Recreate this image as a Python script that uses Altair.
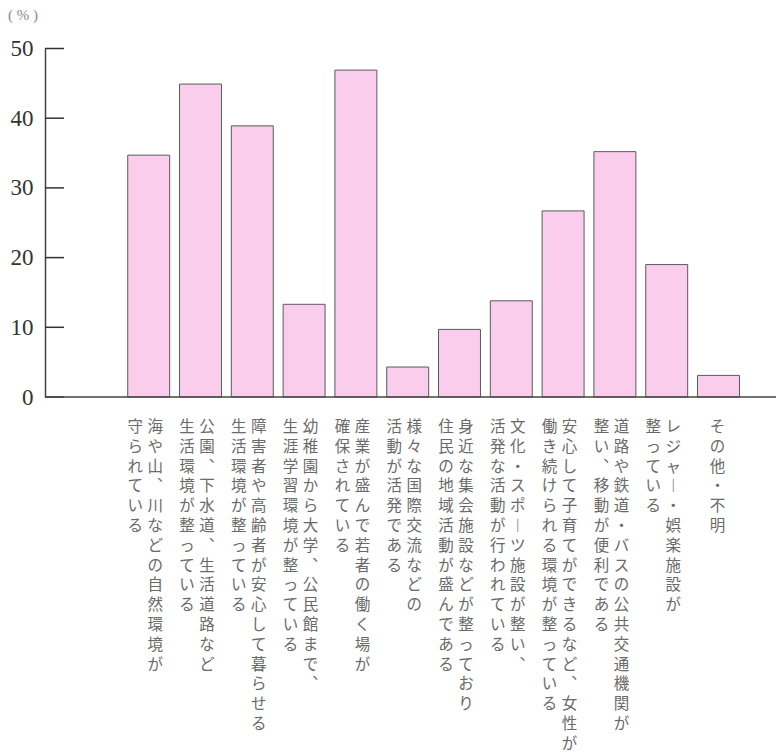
import altair as alt
import pandas as pd

# Survey answers: first and second line of each category label (vertical text)
line1 = [
    "海や山、川などの自然環境が",
    "公園、下水道、生活道路など",
    "障害者や高齢者が安心して暮らせる",
    "幼稚園から大学、公民館まで、",
    "産業が盛んで若者の働く場が",
    "様々な国際交流などの",
    "身近な集会施設などが整っており",
    "文化・スポーツ施設が整い、",
    "安心して子育てができるなど、女性が",
    "道路や鉄道・バスの公共交通機関が",
    "レジャー・娯楽施設が",
    "その他・不明",
]
line2 = [
    "守られている",
    "生活環境が整っている",
    "生活環境が整っている",
    "生涯学習環境が整っている",
    "確保されている",
    "活動が活発である",
    "住民の地域活動が盛んである",
    "活発な活動が行われている",
    "働き続けられる環境が整っている",
    "整い、移動が便利である",
    "整っている",
    "",
]
values = [34.7, 44.9, 38.9, 13.3, 46.9, 4.3, 9.7, 13.8, 26.7, 35.2, 19.0, 3.1]
y_ticks = [0, 10, 20, 30, 40, 50]

W, H = 731, 348.5
cats = [f"c{i:02d}" for i in range(len(values))]

# vertical presentation forms for punctuation in top-to-bottom text
VERT = {"、": "︑", "。": "︒", "ー": "︱"}


def vertical(s):
    return "\n".join(VERT.get(ch, ch) for ch in s)


bars_df = pd.DataFrame({"cat": cats, "value": values})
lab_rows = []
for c, a, b in zip(cats, line1, line2):
    if b:
        lab_rows.append({"cat": c, "col": "first", "txt": vertical(a)})
        lab_rows.append({"cat": c, "col": "second", "txt": vertical(b)})
    else:
        lab_rows.append({"cat": c, "col": "single", "txt": vertical(a)})
lab_df = pd.DataFrame(lab_rows)
tick_df = pd.DataFrame({"t": y_ticks})

# bars sit in the right part of the plot, leaving an empty stretch after the axis
xscale = alt.Scale(domain=cats, range=[77.8, 699.4], paddingInner=0.19, paddingOuter=0.095)
yscale = alt.Scale(domain=[0, 50], nice=False)

serif = "Liberation Serif"
jp = "Noto Sans CJK JP"

yaxis = alt.Axis(values=y_ticks, ticks=False, grid=False, title=None,
                 labelPadding=12, labelFont=serif, labelFontSize=23,
                 labelColor="#333", labelBaseline="middle",
                 domainColor="#444", domainWidth=1.5)

bars = alt.Chart(bars_df).mark_bar(
    fill="#F9CDEB", stroke="#5a5a5a", strokeWidth=1
).encode(
    x=alt.X("cat:N", scale=xscale, sort=cats, axis=None),
    y=alt.Y("value:Q", scale=yscale, axis=yaxis),
)

# inward ticks on the value axis
ticks = alt.Chart(tick_df).mark_rule(color="#333", strokeWidth=1.5).encode(
    y=alt.Y("t:Q", scale=yscale, axis=yaxis),
    x=alt.value(0),
    x2=alt.value(19),
)

# baseline across the full plot width
baseline = alt.Chart(pd.DataFrame({"t": [0]})).mark_rule(color="#444", strokeWidth=1.5).encode(
    y=alt.Y("t:Q", scale=yscale, axis=yaxis),
    x=alt.value(0),
    x2=alt.value(W),
)


def label_layer(col, dx):
    return alt.Chart(lab_df).transform_filter(
        alt.datum.col == col
    ).mark_text(
        font=jp, fontSize=15.5, color="#6a6a6a", align="center",
        baseline="top", lineHeight=19.8, dx=dx, lineBreak="\n",
    ).encode(
        x=alt.X("cat:N", scale=xscale, sort=cats, axis=None),
        y=alt.value(H + 23),
        text="txt:N",
    )


chart = alt.layer(
    bars, ticks, baseline,
    label_layer("first", 6.5),
    label_layer("second", -13.5),
    label_layer("single", -1),
).properties(
    width=W, height=H,
    title=alt.TitleParams("( % )", anchor="start", frame="group", font=serif,
                          fontSize=15, fontWeight="normal", color="#888",
                          baseline="bottom", dx=-37, dy=8, offset=8),
    background="white",
    autosize=alt.AutoSizeParams(type="none"),
    padding={"left": 45, "top": 48.5, "right": 0, "bottom": 358},
).configure_view(stroke="transparent", strokeWidth=0)

chart.save("out.html", embed_options={"renderer": "svg", "actions": False})
